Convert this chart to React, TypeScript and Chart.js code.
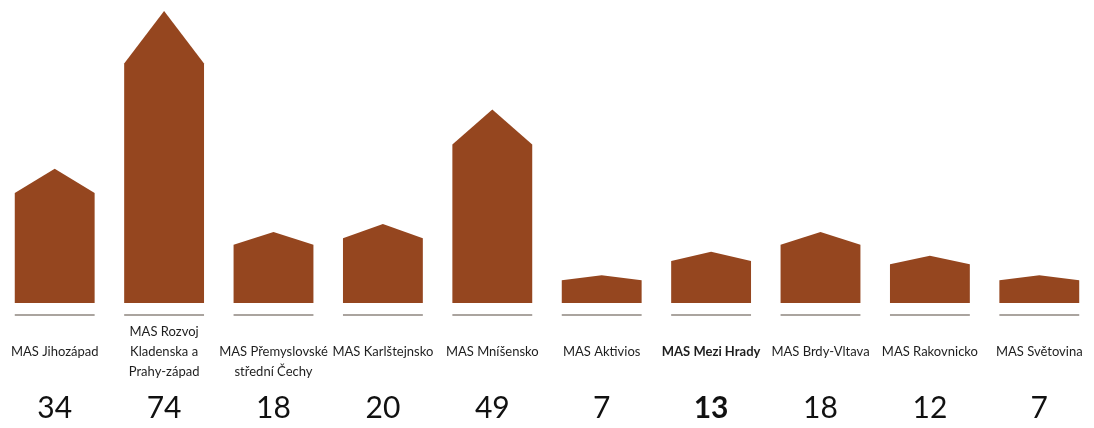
import React, { useEffect, useRef } from 'react';
import { Chart, registerables } from 'chart.js';

Chart.register(...registerables);

// ---- data ----
const categories: string[][] = [
  ['MAS Jihozápad'],
  ['MAS Rozvoj', 'Kladenska a', 'Prahy-západ'],
  ['MAS Přemyslovské', 'střední Čechy'],
  ['MAS Karlštejnsko'],
  ['MAS Mníšensko'],
  ['MAS Aktivios'],
  ['MAS Mezi Hrady'],
  ['MAS Brdy-Vltava'],
  ['MAS Rakovnicko'],
  ['MAS Světovina'],
];
const values: number[] = [34, 74, 18, 20, 49, 7, 13, 18, 12, 7];
const highlighted: boolean[] = [false, false, false, false, false, false, true, false, false, false];

const BAR_COLOR = '#95461f';
const LINE_COLOR = '#aaa49f';
const LABEL_FONT = 'Lato, "Open Sans", sans-serif';

const housePlugin = {
  id: 'houses',
  afterDatasetsDraw(chart: any) {
    const ctx: CanvasRenderingContext2D = chart.ctx;
    const meta = chart.getDatasetMeta(0);
    ctx.save();
    meta.data.forEach((bar: any, i: number) => {
      const { x, y, base, width } = bar.getProps(['x', 'y', 'base', 'width'], true);
      const h = base - y;
      const roof = h * 0.18;
      const l = x - width / 2;
      const r = x + width / 2;
      // house shape
      ctx.fillStyle = BAR_COLOR;
      ctx.beginPath();
      ctx.moveTo(l, base);
      ctx.lineTo(l, y + roof);
      ctx.lineTo(x, y);
      ctx.lineTo(r, y + roof);
      ctx.lineTo(r, base);
      ctx.closePath();
      ctx.fill();
      // underline
      ctx.strokeStyle = LINE_COLOR;
      ctx.lineWidth = 2;
      ctx.beginPath();
      ctx.moveTo(l, base + 12);
      ctx.lineTo(r, base + 12);
      ctx.stroke();
      // label
      const lines = categories[i];
      const bold = highlighted[i];
      ctx.fillStyle = '#1e1e1e';
      ctx.textAlign = 'center';
      ctx.textBaseline = 'middle';
      ctx.font = `${bold ? 'bold ' : ''}13px ${LABEL_FONT}`;
      const lh = 20;
      const startY = base + 49 - lh * Math.floor((lines.length - 1) / 2);
      lines.forEach((t, k) => ctx.fillText(t, x, startY + k * lh));
      // value
      ctx.fillStyle = '#111';
      ctx.font = `${bold ? 'bold ' : ''}30px ${LABEL_FONT}`;
      ctx.fillText(String(values[i]), x, base + 105);
    });
    ctx.restore();
  },
};

export default function App() {
  const ref = useRef<HTMLCanvasElement | null>(null);
  useEffect(() => {
    if (!ref.current) return;
    const chart = new Chart(ref.current, {
      type: 'bar',
      data: {
        labels: categories.map((c) => c.join(' ')),
        datasets: [
          {
            data: values,
            backgroundColor: 'rgba(0,0,0,0)',
            borderWidth: 0,
            barPercentage: 0.73,
            categoryPercentage: 1,
          },
        ],
      },
      options: {
        responsive: false,
        maintainAspectRatio: false,
        animation: false,
        layout: { padding: { top: 3, bottom: 125, left: 0, right: 0 } },
        scales: {
          x: { display: false },
          y: { display: false, min: 0, max: 76 },
        },
        plugins: {
          legend: { display: false },
          tooltip: { enabled: false },
        },
      },
      plugins: [housePlugin],
    });
    return () => chart.destroy();
  }, []);
  return (
    <div style={{ position: 'absolute', left: 0, top: 0, width: 1094, height: 428, background: '#fff' }}>
      <canvas ref={ref} width={1094} height={428} style={{ display: 'block' }} />
    </div>
  );
}
